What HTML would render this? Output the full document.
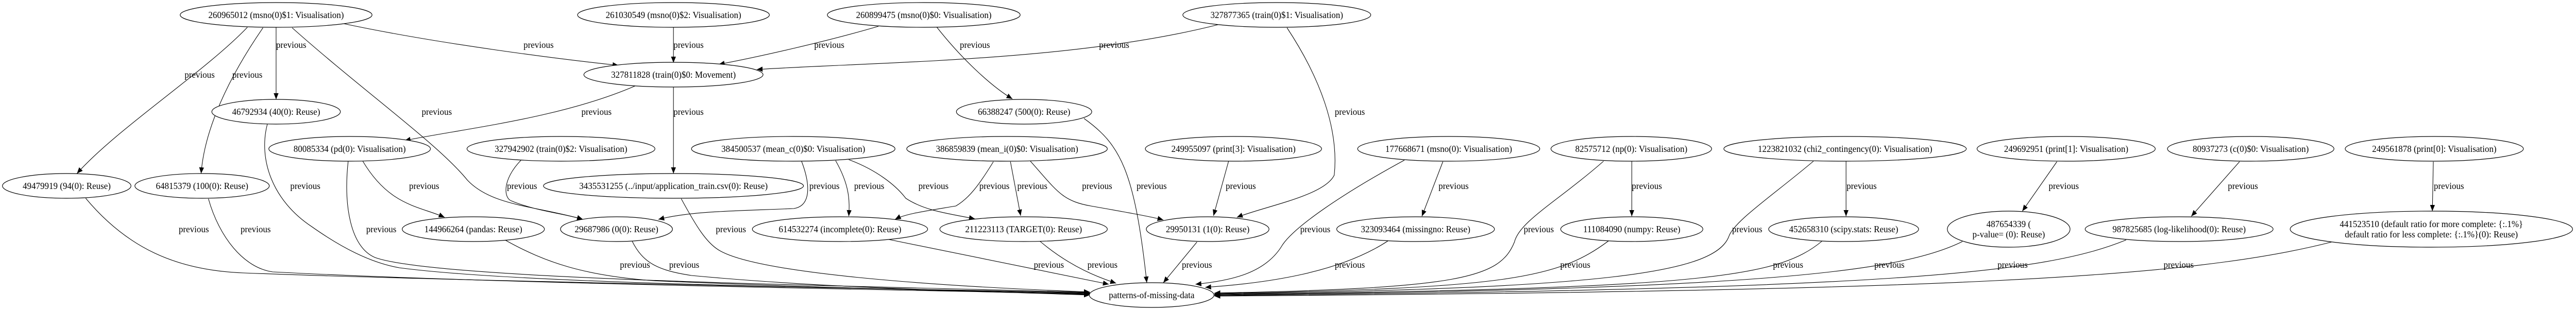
<!DOCTYPE html>
<html><head><meta charset="utf-8"><style>
html,body{margin:0;padding:0;background:#fff;width:100%;height:100%;overflow:hidden;}
svg{display:block;position:absolute;left:0;top:0;width:100vw;height:100vh;}
text{font-family:"Liberation Serif","Times New Roman",serif;font-size:18px;fill:#000;}
</style></head><body>
<svg viewBox="0 0 5290 602" preserveAspectRatio="none" xmlns="http://www.w3.org/2000/svg">
<defs>
<marker id="a" markerUnits="userSpaceOnUse" markerWidth="14" markerHeight="10" refX="12" refY="5" orient="auto">
<path d="M0,0 L12,5 L0,10 Z" fill="#000"/>
</marker>
</defs>
<g fill="none" stroke="#000" stroke-width="1.1" marker-end="url(#a)">
<path d="M706,46 C900,85 1150,115 1270,127"/>
<path d="M567,53 L567,193"/>
<path d="M508,53 C420,140 240,250 158,337"/>
<path d="M540,54 C470,150 420,250 413,337"/>
<path d="M600,54 C750,180 900,280 960,350 C1010,400 1100,400 1197,426"/>
<path d="M1304,167 C1150,230 950,250 831,273"/>
<path d="M1070,311 C1030,350 1035,385 1050,390 C1100,410 1160,415 1197,426"/>
<path d="M745,313 C800,400 860,400 913,422"/>
<path d="M715,313 C705,400 720,480 770,500 C900,545 1800,555 2238,568"/>
<path d="M549,241 C530,310 560,390 640,440 C700,480 760,510 820,520 C1100,555 1900,560 2238,569"/>
<path d="M176,385 C260,480 360,525 500,530 C900,545 1800,560 2238,570"/>
<path d="M428,386 C450,460 500,520 560,528 C1000,550 1800,562 2238,571"/>
<path d="M1037,466 C1120,510 1200,535 1340,545 C1700,560 2000,565 2238,572"/>
<path d="M1298,468 C1320,510 1350,525 1420,535 C1700,560 2000,565 2238,573"/>
<path d="M1383,53 L1383,122"/>
<path d="M1804,51 C1700,80 1560,110 1476,125"/>
<path d="M2501,48 C2200,120 1800,120 1554,135"/>
<path d="M1924,53 C1980,120 2040,170 2079,192"/>
<path d="M1383,169 L1383,337"/>
<path d="M1399,386 C1430,440 1450,470 1475,485 C1550,530 1900,555 2238,567"/>
<path d="M1646,313 C1665,360 1665,400 1630,405 C1500,410 1420,410 1352,426"/>
<path d="M1716,312 C1745,360 1745,390 1743,420"/>
<path d="M1743,310 C1800,330 1840,360 1860,385 C1900,410 1950,415 2002,425"/>
<path d="M2040,314 C2010,360 1990,385 1963,400 C1900,410 1860,415 1838,426"/>
<path d="M2075,314 L2096,419"/>
<path d="M2116,313 C2170,370 2180,390 2240,400 C2300,410 2360,420 2389,427"/>
<path d="M2226,230 C2300,280 2330,330 2355,549"/>
<path d="M2523,313 L2492,419"/>
<path d="M2643,54 C2710,150 2750,250 2740,340 C2720,380 2600,400 2540,422"/>
<path d="M1825,465 L2277,552"/>
<path d="M2135,468 C2200,520 2260,540 2292,550"/>
<path d="M2458,470 L2389,549"/>
<path d="M2963,314 L2920,420"/>
<path d="M2884,311 C2750,380 2660,440 2634,475 C2600,530 2530,545 2455,552"/>
<path d="M2850,468 C2750,530 2600,550 2475,558"/>
<path d="M3351,313 L3351,420"/>
<path d="M3293,313 C3200,390 3120,430 3110,470 C3080,540 3000,560 2494,569"/>
<path d="M3303,468 C3200,540 3100,560 2494,570"/>
<path d="M3791,313 L3791,420"/>
<path d="M3724,313 C3640,380 3560,430 3550,460 C3520,530 3300,560 2494,571"/>
<path d="M3742,468 C3650,540 3500,560 2494,572"/>
<path d="M4030,469 C3900,530 3600,562 2494,573"/>
<path d="M4224,314 L4153,410"/>
<path d="M4599,314 L4500,420"/>
<path d="M4997,314 L4995,410"/>
<path d="M4366,466 C4200,530 3900,562 2494,574"/>
<path d="M4788,470 C4500,540 4000,565 2494,575"/>
</g>
<g fill="#fff" stroke="#000" stroke-width="1.2">
<ellipse cx="567" cy="29" rx="197" ry="24"/>
<ellipse cx="1383" cy="29" rx="197" ry="24"/>
<ellipse cx="1897" cy="29" rx="198" ry="24"/>
<ellipse cx="2622" cy="29" rx="193" ry="24"/>
<ellipse cx="1383" cy="145" rx="184" ry="24"/>
<ellipse cx="567" cy="217" rx="132" ry="24"/>
<ellipse cx="2103" cy="217" rx="139" ry="24"/>
<ellipse cx="718" cy="289" rx="166" ry="24"/>
<ellipse cx="1152" cy="289" rx="193" ry="24"/>
<ellipse cx="1629" cy="289" rx="209" ry="24"/>
<ellipse cx="2068" cy="289" rx="206" ry="24"/>
<ellipse cx="2533" cy="289" rx="181" ry="24"/>
<ellipse cx="2975" cy="289" rx="187" ry="24"/>
<ellipse cx="3350" cy="289" rx="165" ry="24"/>
<ellipse cx="3789" cy="289" rx="249" ry="24"/>
<ellipse cx="4243" cy="289" rx="183" ry="24"/>
<ellipse cx="4622" cy="289" rx="171" ry="24"/>
<ellipse cx="4999" cy="289" rx="183" ry="24"/>
<ellipse cx="137" cy="361" rx="132" ry="24"/>
<ellipse cx="415" cy="361" rx="138" ry="24"/>
<ellipse cx="1383" cy="361" rx="267" ry="24"/>
<ellipse cx="972" cy="445" rx="146" ry="24"/>
<ellipse cx="1266" cy="445" rx="115" ry="24"/>
<ellipse cx="1725" cy="445" rx="180" ry="24"/>
<ellipse cx="2102" cy="445" rx="172" ry="24"/>
<ellipse cx="2480" cy="445" rx="126" ry="24"/>
<ellipse cx="2907" cy="445" rx="162" ry="24"/>
<ellipse cx="3351" cy="445" rx="146" ry="24"/>
<ellipse cx="3786" cy="445" rx="154" ry="24"/>
<ellipse cx="4125" cy="445" rx="126" ry="35"/>
<ellipse cx="4475" cy="445" rx="193" ry="24"/>
<ellipse cx="4993" cy="445" rx="290" ry="35"/>
<ellipse cx="2365" cy="573" rx="128" ry="24"/>
</g>
<g text-anchor="middle">
<text x="567" y="35">260965012 (msno(0)$1: Visualisation)</text>
<text x="1383" y="35">261030549 (msno(0)$2: Visualisation)</text>
<text x="1897" y="35">260899475 (msno(0)$0: Visualisation)</text>
<text x="2622" y="35">327877365 (train(0)$1: Visualisation)</text>
<text x="1383" y="151">327811828 (train(0)$0: Movement)</text>
<text x="567" y="223">46792934 (40(0): Reuse)</text>
<text x="2103" y="223">66388247 (500(0): Reuse)</text>
<text x="718" y="295">80085334 (pd(0): Visualisation)</text>
<text x="1152" y="295">327942902 (train(0)$2: Visualisation)</text>
<text x="1629" y="295">384500537 (mean_c(0)$0: Visualisation)</text>
<text x="2068" y="295">386859839 (mean_i(0)$0: Visualisation)</text>
<text x="2533" y="295">249955097 (print[3]: Visualisation)</text>
<text x="2975" y="295">177668671 (msno(0): Visualisation)</text>
<text x="3350" y="295">82575712 (np(0): Visualisation)</text>
<text x="3789" y="295">1223821032 (chi2_contingency(0): Visualisation)</text>
<text x="4243" y="295">249692951 (print[1]: Visualisation)</text>
<text x="4622" y="295">80937273 (c(0)$0: Visualisation)</text>
<text x="4999" y="295">249561878 (print[0]: Visualisation)</text>
<text x="137" y="367">49479919 (94(0): Reuse)</text>
<text x="415" y="367">64815379 (100(0): Reuse)</text>
<text x="1383" y="367">3435531255 (../input/application_train.csv(0): Reuse)</text>
<text x="972" y="451">144966264 (pandas: Reuse)</text>
<text x="1266" y="451">29687986 (0(0): Reuse)</text>
<text x="1725" y="451">614532274 (incomplete(0): Reuse)</text>
<text x="2102" y="451">211223113 (TARGET(0): Reuse)</text>
<text x="2480" y="451">29950131 (1(0): Reuse)</text>
<text x="2907" y="451">323093464 (missingno: Reuse)</text>
<text x="3351" y="451">111084090 (numpy: Reuse)</text>
<text x="3786" y="451">452658310 (scipy.stats: Reuse)</text>
<text x="4125" y="441">487654339 (</text>
<text x="4125" y="461">p-value= (0): Reuse)</text>
<text x="4475" y="451">987825685 (log-likelihood(0): Reuse)</text>
<text x="4993" y="441">441523510 (default ratio for more complete: {:.1%}</text>
<text x="4993" y="461">default ratio for less complete: {:.1%}(0): Reuse)</text>
<text x="2365" y="579">patterns-of-missing-data</text>
</g>
<g text-anchor="middle">
<text x="1106" y="93">previous</text>
<text x="598" y="93">previous</text>
<text x="410" y="151">previous</text>
<text x="508" y="151">previous</text>
<text x="897" y="223">previous</text>
<text x="1225" y="223">previous</text>
<text x="1072" y="367">previous</text>
<text x="871" y="367">previous</text>
<text x="783" y="451">previous</text>
<text x="627" y="367">previous</text>
<text x="398" y="451">previous</text>
<text x="525" y="451">previous</text>
<text x="1304" y="520">previous</text>
<text x="1405" y="520">previous</text>
<text x="1414" y="93">previous</text>
<text x="1703" y="93">previous</text>
<text x="2288" y="93">previous</text>
<text x="2002" y="93">previous</text>
<text x="1414" y="223">previous</text>
<text x="1501" y="451">previous</text>
<text x="1693" y="367">previous</text>
<text x="1785" y="367">previous</text>
<text x="1917" y="367">previous</text>
<text x="2042" y="367">previous</text>
<text x="2120" y="367">previous</text>
<text x="2253" y="367">previous</text>
<text x="2365" y="367">previous</text>
<text x="2548" y="367">previous</text>
<text x="2772" y="223">previous</text>
<text x="2154" y="520">previous</text>
<text x="2264" y="520">previous</text>
<text x="2458" y="520">previous</text>
<text x="2985" y="367">previous</text>
<text x="2701" y="451">previous</text>
<text x="2772" y="520">previous</text>
<text x="3382" y="367">previous</text>
<text x="3160" y="451">previous</text>
<text x="3235" y="520">previous</text>
<text x="3823" y="367">previous</text>
<text x="3588" y="451">previous</text>
<text x="3672" y="520">previous</text>
<text x="3880" y="520">previous</text>
<text x="4238" y="367">previous</text>
<text x="4606" y="367">previous</text>
<text x="5029" y="367">previous</text>
<text x="4133" y="520">previous</text>
<text x="4474" y="520">previous</text>
</g>
</svg>
</body></html>
